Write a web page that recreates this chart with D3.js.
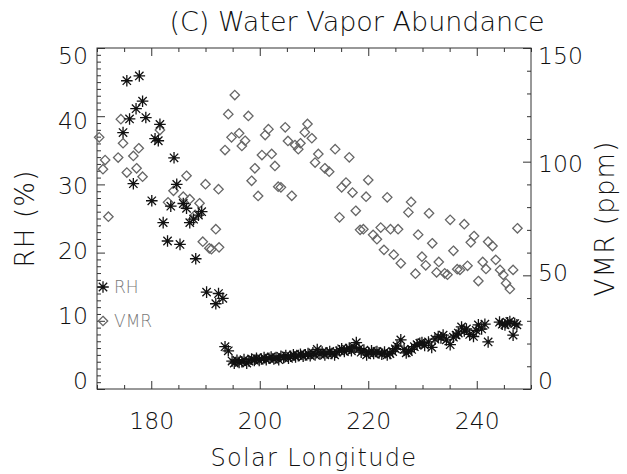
<!DOCTYPE html>
<html><head><meta charset="utf-8">
<script src="https://cdn.jsdelivr.net/npm/d3@7"></script>
<style>
body{margin:0;background:#fff;}
svg text{font-family:"DejaVu Sans","Liberation Sans",sans-serif;font-weight:200;}
</style></head><body>
<svg id="c" width="627" height="474"></svg>
<script>
// ---------- data ----------
const title = "(C) Water Vapor Abundance";
const xLabel = "Solar Longitude";
const yLeftLabel = "RH (%)";
const yRightLabel = "VMR (ppm)";
const legendLabels = ["RH", "VMR"];

const xMajorTicks = [180, 200, 220, 240];
const rhTicks = [0, 10, 20, 30, 40, 50];
const vmrTicks = [0, 50, 100, 150];

// RH (asterisks): solar longitude and relative humidity (%)
const rhLs = [175.5,177.8,178.4,177.2,176.0,179.0,181.6,174.8,180.7,181.3,184.2,176.7,180.1,183.6,184.7,185.9,186.5,189.3,188.7,187.8,187.1,182.2,183.0,185.3,188.2,190.2,192.4,193.2,191.9,193.6,194.2,
194.9,195.3,195.8,196.2,196.7,197.1,197.6,198.0,198.5,199.0,199.4,199.9,200.3,200.8,201.2,201.7,202.1,202.6,203.0,203.5,203.9,204.4,204.8,205.3,205.7,206.2,206.6,207.1,207.5,208.0,208.4,208.9,209.3,209.8,210.2,210.6,211.1,211.5,212.0,212.4,212.9,213.3,213.8,214.2,214.7,215.1,215.6,216.0,216.5,216.9,217.4,217.8,218.3,218.7,219.2,219.7,220.1,220.6,221.0,221.6,222.0,222.5,223.0,223.5,224.0,224.5,225.0,225.3,226.0,226.6,227.0,227.4,228.0,228.5,229.0,229.5,229.9,230.4,231.1,231.7,232.3,232.9,233.4,233.8,234.4,235.1,235.7,236.2,236.6,237.2,237.7,238.1,238.7,239.4,239.9,240.3,240.9,241.5,242.1,244.2,244.7,245.2,245.7,246.1,246.7,247.0,247.4];
const rhVal = [45.2,45.9,42.2,41.1,39.6,39.8,38.8,37.6,36.7,36.4,33.9,30.1,27.6,26.8,30.0,27.2,26.5,26.0,25.5,24.9,24.4,24.4,21.7,21.2,19.1,14.2,14.0,13.3,12.5,6.2,5.6,
4.1,3.8,4.2,3.9,4.0,4.3,3.8,4.1,4.4,4.2,4.5,4.2,4.4,4.6,4.3,4.5,4.7,4.4,4.6,4.3,4.8,4.6,4.9,4.5,4.8,5.0,4.7,4.9,5.1,4.8,5.0,5.2,4.9,5.3,5.0,5.8,5.1,5.4,5.0,5.3,5.5,5.2,5.0,5.4,5.6,5.9,5.5,5.8,6.0,5.6,6.1,6.8,5.9,5.4,5.7,5.0,5.3,5.6,5.2,5.5,5.3,5.1,5.4,5.0,5.2,5.5,5.9,6.3,7.2,5.8,5.3,5.5,5.8,6.2,6.5,6.7,6.8,6.4,6.9,6.1,7.3,7.7,7.5,7.9,7.2,6.5,7.6,7.9,8.2,9.1,8.5,8.8,8.0,7.7,8.6,9.4,8.8,9.5,6.9,9.8,9.5,9.4,9.7,9.9,7.9,9.6,9.4];

// VMR (diamonds): solar longitude and volume mixing ratio (ppm)
const vmrLs = [174.4,170.4,174.8,177.7,181.6,176.7,173.9,171.5,171.1,175.5,177.3,178.4,186.5,190.0,192.4,172.1,183.1,185.9,187.1,188.9,184.1,188.1,191.9,189.5,190.7,191.1,192.5,
195.4,194.2,197.9,194.8,196.2,197.3,196.7,193.6,201.0,201.6,204.7,208.8,208.3,209.6,205.2,206.5,207.5,207.1,200.4,202.2,202.8,199.1,198.5,203.4,203.9,199.7,205.9,210.8,210.2,212.0,212.8,213.9,216.5,220.0,215.9,215.1,217.1,219.6,217.7,214.7,218.5,219.1,
223.5,227.9,227.4,231.2,220.9,221.6,222.3,224.1,225.5,229.2,235.1,237.7,222.9,224.7,226.0,231.8,229.9,230.6,228.7,233.0,232.6,234.1,234.6,235.7,236.4,236.9,238.3,239.5,238.9,242.1,242.9,240.3,241.1,241.7,243.5,244.3,244.9,246.7,245.4,246.1,247.5];
const vmrVal = [118.7,110.7,108.1,105.9,113.9,102.5,101.8,100.7,96.7,95.2,97.1,93.4,93.8,90.1,87.9,75.8,82.1,84.6,83.5,81.7,87.2,76.6,70.3,64.8,61.9,61.5,62.3,
129.3,120.9,120.1,110.7,112.5,109.2,106.9,105.1,111.7,114.3,115.1,116.6,112.9,110.3,109.1,107.3,108.1,105.5,102.9,103.4,98.1,97.1,91.6,89.0,88.7,84.9,85.0,103.4,99.6,97.1,95.6,105.5,101.9,91.9,90.8,88.7,86.4,84.6,78.4,75.5,70.0,70.3,
84.3,82.3,77.7,77.3,67.8,65.9,71.0,70.3,70.3,67.9,74.4,72.5,61.2,59.1,55.3,64.1,58.2,54.4,50.7,55.9,51.3,50.9,50.3,60.8,52.7,52.4,54.2,67.3,64.5,64.8,62.9,47.5,55.9,52.8,56.8,52.4,50.2,52.4,46.5,44.0,70.7];

// ---------- layout ----------
const L = 97, R = 531, T = 48, B = 389;
const svg = d3.select("#c");
const x = d3.scaleLinear().domain([170, 250]).range([L, R]);
const yL = d3.scaleLinear().domain([0, 50]).range([B, T]);
const yR = d3.scaleLinear().domain([0, 150]).range([B, T]);
// tick-label placement (labels at the extremes sit inside the frame)
const labelInset = 8;

const axisColor = "#333";
const fs = 23.5;

function styleAxis(g, labels) {
  g.select(".domain").remove();
  g.selectAll("line").attr("stroke", axisColor).attr("stroke-width", 1);
  if (!labels) g.selectAll("text").remove();
  else g.selectAll("text").attr("fill", "#111").style("font-size", fs + "px").attr("font-family", null);
}
function insetYLabels(g, scale) {
  const [d0, d1] = scale.domain();
  g.selectAll(".tick text").attr("y", v => {
    const t = (v - d0) / (d1 - d0);
    return -labelInset * (1 - t) + labelInset * t;
  });
}

const xMinor = d3.range(170, 251, 5).filter(v => !xMajorTicks.includes(v));
svg.append("g").attr("transform", `translate(0,${B})`)
  .call(d3.axisBottom(x).tickValues(xMajorTicks).tickSizeInner(-8).tickSizeOuter(0).tickPadding(23).tickFormat(d3.format("d")))
  .call(g => styleAxis(g, true));
svg.append("g").attr("transform", `translate(0,${B})`)
  .call(d3.axisBottom(x).tickValues(xMinor).tickSizeInner(-4).tickSizeOuter(0))
  .call(g => styleAxis(g, false));
svg.append("g").attr("transform", `translate(0,${T})`)
  .call(d3.axisTop(x).tickValues(xMajorTicks).tickSizeInner(-8).tickSizeOuter(0))
  .call(g => styleAxis(g, false));
svg.append("g").attr("transform", `translate(0,${T})`)
  .call(d3.axisTop(x).tickValues(xMinor).tickSizeInner(-4).tickSizeOuter(0))
  .call(g => styleAxis(g, false));

const rhMinor = d3.range(0, 51, 1).filter(v => !rhTicks.includes(v));
svg.append("g").attr("transform", `translate(${L},0)`)
  .call(d3.axisLeft(yL).tickValues(rhTicks).tickSizeInner(-8).tickSizeOuter(0).tickPadding(9))
  .call(g => styleAxis(g, true))
  .call(g => insetYLabels(g, yL));
svg.append("g").attr("transform", `translate(${L},0)`)
  .call(d3.axisLeft(yL).tickValues(rhMinor).tickSizeInner(-4).tickSizeOuter(0))
  .call(g => styleAxis(g, false));

const vmrMinor = d3.range(0, 151, 10).filter(v => !vmrTicks.includes(v));
svg.append("g").attr("transform", `translate(${R},0)`)
  .call(d3.axisRight(yR).tickValues(vmrTicks).tickSizeInner(-8).tickSizeOuter(0).tickPadding(7))
  .call(g => styleAxis(g, true))
  .call(g => insetYLabels(g, yR));
svg.append("g").attr("transform", `translate(${R},0)`)
  .call(d3.axisRight(yR).tickValues(vmrMinor).tickSizeInner(-4).tickSizeOuter(0))
  .call(g => styleAxis(g, false));

// frame
svg.append("rect").attr("x", L).attr("y", T).attr("width", R - L).attr("height", B - T)
  .attr("fill", "none").attr("stroke", axisColor).attr("stroke-width", 1);

// symbols
function starPath(cx, cy, r) {
  const d = r * 0.72;
  return `M${cx - r},${cy}L${cx + r},${cy}M${cx},${cy - r}L${cx},${cy + r}` +
         `M${cx - d},${cy - d}L${cx + d},${cy + d}M${cx - d},${cy + d}L${cx + d},${cy - d}`;
}
function diamondPath(cx, cy, r) {
  return `M${cx},${cy - r}L${cx + r},${cy}L${cx},${cy + r}L${cx - r},${cy}Z`;
}

const vmrData = vmrLs.map((v, i) => ({ ls: v, val: vmrVal[i] }));
const rhData = rhLs.map((v, i) => ({ ls: v, val: rhVal[i] }));

svg.append("g").selectAll("path").data(vmrData).join("path")
  .attr("d", d => diamondPath(x(d.ls), yR(d.val), 4.7))
  .attr("fill", "none").attr("stroke", "#666").attr("stroke-width", 1.3);

svg.append("g").selectAll("path").data(rhData).join("path")
  .attr("d", d => starPath(x(d.ls), yL(d.val), 5.8))
  .attr("fill", "none").attr("stroke", "#111").attr("stroke-width", 1.3);

// legend
const lg = svg.append("g");
lg.append("path").attr("d", starPath(103, 287, 5.8)).attr("fill", "none").attr("stroke", "#111").attr("stroke-width", 1.3);
lg.append("path").attr("d", diamondPath(103, 321, 4.7)).attr("fill", "none").attr("stroke", "#666").attr("stroke-width", 1.3);
lg.append("text").attr("x", 114).attr("y", 287).attr("dy", "0.35em").text(legendLabels[0])
  .style("font-size", "17px").attr("fill", "#777");
lg.append("text").attr("x", 114).attr("y", 321).attr("dy", "0.35em").text(legendLabels[1])
  .style("font-size", "17px").attr("fill", "#777");

// titles
svg.append("text").attr("x", 357).attr("y", 31).attr("text-anchor", "middle")
  .style("font-size", "27px").attr("fill", "#111").text(title);
svg.append("text").attr("x", (L + R) / 2).attr("y", 466).attr("text-anchor", "middle")
  .style("font-size", "24px").style("letter-spacing", "1.3px").attr("fill", "#111").text(xLabel);
svg.append("text").attr("transform", `translate(34,${(T + B) / 2}) rotate(-90)`).attr("text-anchor", "middle")
  .style("font-size", "26px").style("letter-spacing", "1.2px").attr("fill", "#111").text(yLeftLabel);
svg.append("text").attr("transform", `translate(614,${(T + B) / 2}) rotate(-90)`).attr("text-anchor", "middle")
  .style("font-size", "26px").style("letter-spacing", "1.2px").attr("fill", "#111").text(yRightLabel);
</script>
</body></html>
